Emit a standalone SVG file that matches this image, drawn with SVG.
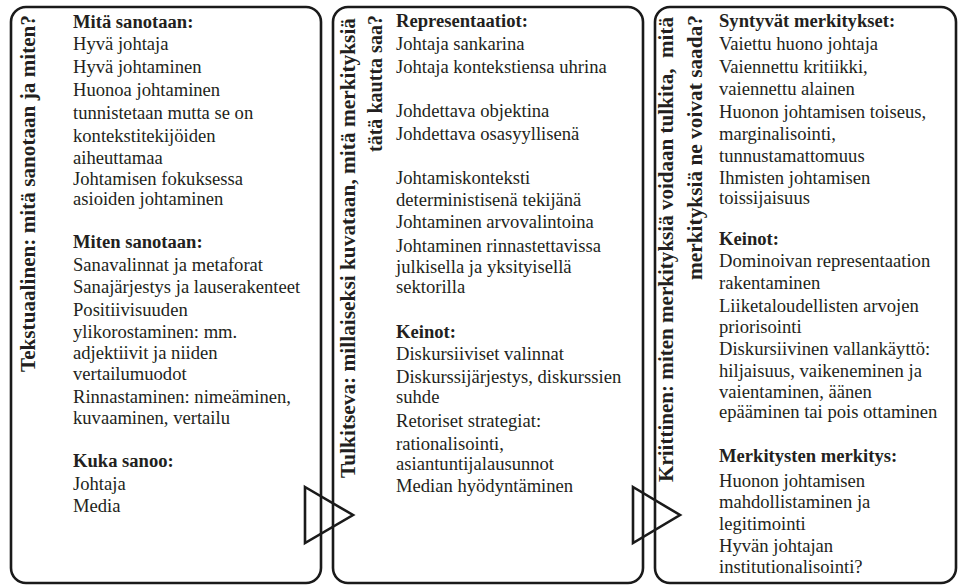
<svg xmlns="http://www.w3.org/2000/svg" width="958" height="585" viewBox="0 0 958 585">
  <style>
    .panel { fill: #ffffff; stroke: #1a1a1a; stroke-width: 2.6; }
    .arrow { fill: none; stroke: #1a1a1a; stroke-width: 2.6; stroke-linejoin: miter; }
    .title { font-family: "Liberation Serif", "Times New Roman", serif; font-weight: bold; font-size: 21px; fill: #231f20; white-space: pre; }
    .body { font-family: "Liberation Serif", "Times New Roman", serif; font-size: 18.6px; fill: #231f20; }
    .head { font-weight: bold; }
  </style>
  <rect width="958" height="585" fill="#ffffff"/>

  <!-- Panel 1: textual level -->
  <g id="tekstuaalinen">
    <rect class="panel" x="11" y="7" width="310" height="576" rx="15"/>
    <text class="title" transform="translate(35,372) rotate(-90)" textLength="357" lengthAdjust="spacingAndGlyphs">Tekstuaalinen: mitä sanotaan ja miten?</text>
    <text class="body">
      <tspan class="head" x="73" y="28">Mitä sanotaan:</tspan>
      <tspan x="73" y="50">Hyvä johtaja</tspan>
      <tspan x="73" y="73">Hyvä johtaminen</tspan>
      <tspan x="73" y="96">Huonoa johtaminen</tspan>
      <tspan x="73" y="119">tunnistetaan mutta se on</tspan>
      <tspan x="73" y="142">kontekstitekijöiden</tspan>
      <tspan x="73" y="164">aiheuttamaa</tspan>
      <tspan x="73" y="185">Johtamisen fokuksessa</tspan>
      <tspan x="73" y="205">asioiden johtaminen</tspan>
      <tspan class="head" x="73" y="248">Miten sanotaan:</tspan>
      <tspan x="73" y="271">Sanavalinnat ja metaforat</tspan>
      <tspan x="73" y="293">Sanajärjestys ja lauserakenteet</tspan>
      <tspan x="73" y="316">Positiivisuuden</tspan>
      <tspan x="73" y="338">ylikorostaminen: mm.</tspan>
      <tspan x="73" y="359">adjektiivit ja niiden</tspan>
      <tspan x="73" y="380">vertailumuodot</tspan>
      <tspan x="73" y="403">Rinnastaminen: nimeäminen,</tspan>
      <tspan x="73" y="424">kuvaaminen, vertailu</tspan>
      <tspan class="head" x="73" y="467">Kuka sanoo:</tspan>
      <tspan x="73" y="490">Johtaja</tspan>
      <tspan x="73" y="512">Media</tspan>
    </text>
  </g>

  <!-- Panel 2: interpretive level -->
  <g id="tulkitseva">
    <rect class="panel" x="333" y="7" width="310" height="576" rx="15"/>
    <text class="title" transform="translate(355,478) rotate(-90)" textLength="460" lengthAdjust="spacingAndGlyphs">Tulkitseva: millaiseksi kuvataan, mitä merkityksiä</text>
    <text class="title" transform="translate(382,152) rotate(-90)" textLength="137" lengthAdjust="spacingAndGlyphs">tätä kautta saa?</text>
    <text class="body">
      <tspan class="head" x="396" y="27">Representaatiot:</tspan>
      <tspan x="396" y="50">Johtaja sankarina</tspan>
      <tspan x="396" y="73">Johtaja kontekstiensa uhrina</tspan>
      <tspan x="396" y="117">Johdettava objektina</tspan>
      <tspan x="396" y="140">Johdettava osasyyllisenä</tspan>
      <tspan x="396" y="184">Johtamiskonteksti</tspan>
      <tspan x="396" y="206">deterministisenä tekijänä</tspan>
      <tspan x="396" y="228">Johtaminen arvovalintoina</tspan>
      <tspan x="396" y="252">Johtaminen rinnastettavissa</tspan>
      <tspan x="396" y="273">julkisella ja yksityisellä</tspan>
      <tspan x="396" y="293">sektorilla</tspan>
      <tspan class="head" x="396" y="338">Keinot:</tspan>
      <tspan x="396" y="360">Diskursiiviset valinnat</tspan>
      <tspan x="396" y="383">Diskurssijärjestys, diskurssien</tspan>
      <tspan x="396" y="403">suhde</tspan>
      <tspan x="396" y="427">Retoriset strategiat:</tspan>
      <tspan x="396" y="450">rationalisointi,</tspan>
      <tspan x="396" y="470">asiantuntijalausunnot</tspan>
      <tspan x="396" y="492">Median hyödyntäminen</tspan>
    </text>
  </g>

  <!-- Panel 3: critical level -->
  <g id="kriittinen">
    <rect class="panel" x="655" y="7" width="301" height="576" rx="15"/>
    <text class="title" transform="translate(673,482) rotate(-90)" textLength="465" lengthAdjust="spacingAndGlyphs">Kriittinen: miten merkityksiä voidaan tulkita,  mitä</text>
    <text class="title" transform="translate(702,280) rotate(-90)" textLength="265" lengthAdjust="spacingAndGlyphs">merkityksiä ne voivat saada?</text>
    <text class="body">
      <tspan class="head" x="719" y="27">Syntyvät merkitykset:</tspan>
      <tspan x="719" y="50">Vaiettu huono johtaja</tspan>
      <tspan x="719" y="73">Vaiennettu kritiikki,</tspan>
      <tspan x="719" y="95">vaiennettu alainen</tspan>
      <tspan x="719" y="118">Huonon johtamisen toiseus,</tspan>
      <tspan x="719" y="140">marginalisointi,</tspan>
      <tspan x="719" y="162">tunnustamattomuus</tspan>
      <tspan x="719" y="184">Ihmisten johtamisen</tspan>
      <tspan x="719" y="204">toissijaisuus</tspan>
      <tspan class="head" x="719" y="245">Keinot:</tspan>
      <tspan x="719" y="267">Dominoivan representaation</tspan>
      <tspan x="719" y="289">rakentaminen</tspan>
      <tspan x="719" y="312">Liiketaloudellisten arvojen</tspan>
      <tspan x="719" y="333">priorisointi</tspan>
      <tspan x="719" y="355">Diskursiivinen vallankäyttö:</tspan>
      <tspan x="719" y="377">hiljaisuus, vaikeneminen ja</tspan>
      <tspan x="719" y="398">vaientaminen, äänen</tspan>
      <tspan x="719" y="418">epääminen tai pois ottaminen</tspan>
      <tspan class="head" x="719" y="462">Merkitysten merkitys:</tspan>
      <tspan x="719" y="487">Huonon johtamisen</tspan>
      <tspan x="719" y="508">mahdollistaminen ja</tspan>
      <tspan x="719" y="530">legitimointi</tspan>
      <tspan x="719" y="552">Hyvän johtajan</tspan>
      <tspan x="719" y="573">institutionalisointi?</tspan>
    </text>
  </g>

  <!-- Connectors: open triangles between the panels -->
  <g id="connectors">
    <polygon class="arrow" points="305,487 353,515 305,543"/>
    <polygon class="arrow" points="633,487 680,515 633,543"/>
  </g>
</svg>
